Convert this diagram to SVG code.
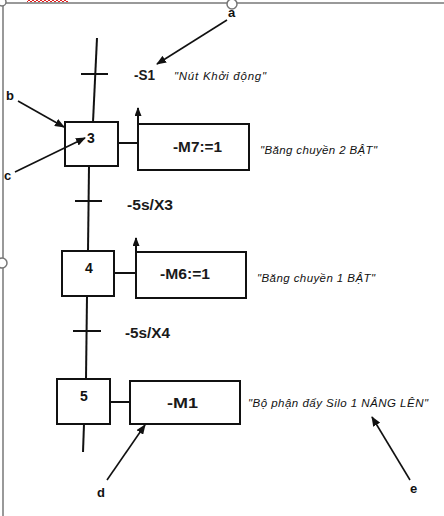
<svg xmlns="http://www.w3.org/2000/svg" width="444" height="516" viewBox="0 0 444 516">
<style>
.ln{stroke:#111;stroke-width:2;fill:none}
.bx{stroke:#111;stroke-width:2;fill:#fff}
.lbl{font-family:"Liberation Sans",Arial,sans-serif;font-size:14px;font-weight:bold;fill:#1a1a1a}
.num{font-family:"Liberation Sans",Arial,sans-serif;font-size:14px;font-weight:bold;fill:#111}
.cm{font-family:"Liberation Sans",Arial,sans-serif;font-size:11.5px;font-style:italic;fill:#111}
.let{font-family:"Liberation Sans",Arial,sans-serif;font-size:13px;font-weight:bold;fill:#111}
.ann{stroke:#111;stroke-width:1.6;fill:none;marker-end:url(#ah)}
.fr{stroke:#777;stroke-width:1.5;fill:none}
.hd{stroke:#777;stroke-width:1.5;fill:#fff}
</style>
<defs>
<marker id="ah" markerWidth="10" markerHeight="8" refX="9" refY="4" orient="auto" markerUnits="userSpaceOnUse">
<path d="M0,0 L10,4 L0,8 Z" fill="#111"/>
</marker>
<marker id="up" markerWidth="9" markerHeight="7" refX="8" refY="3.5" orient="auto" markerUnits="userSpaceOnUse">
<path d="M0,0 L9,3.5 L0,7 Z" fill="#111"/>
</marker>
</defs>
<rect width="444" height="516" fill="#fff"/>
<g id="frame">
<line class="fr" x1="0" y1="3" x2="444" y2="3"/>
<line class="fr" x1="3" y1="0" x2="3" y2="516"/>
<polyline points="27,2 29,0 31,2 33,0 35,2 37,0 39,2 41,0 43,2 45,0 47,2 49,0 51,2 53,0 55,2 57,0 59,2 61,0 63,2 65,0 67,2 68,1" stroke="#e02020" stroke-width="1" fill="none"/>
<circle class="hd" cx="232" cy="4" r="5"/>
<circle class="hd" cx="2" cy="263" r="5"/>
<circle class="hd" cx="2" cy="2" r="4"/>
</g>
<g id="connectors">
<line class="ln" x1="97" y1="38" x2="93" y2="122"/>
<line class="ln" x1="89" y1="166" x2="88" y2="251"/>
<line class="ln" x1="87" y1="296" x2="86" y2="379"/>
<line class="ln" x1="84" y1="424" x2="83" y2="452"/>
<line class="ln" x1="118" y1="143" x2="138" y2="143"/>
<line class="ln" x1="114" y1="273" x2="136" y2="273"/>
<line class="ln" x1="110" y1="402" x2="130" y2="402"/>
<line class="ln" x1="138" y1="124" x2="138" y2="108" marker-end="url(#up)"/>
<line class="ln" x1="136" y1="252" x2="136" y2="238" marker-end="url(#up)"/>
</g>
<g id="transition-S1">
<line class="ln" x1="81" y1="74" x2="108" y2="74"/>
<text class="lbl" x="134" y="80" textLength="21" lengthAdjust="spacingAndGlyphs">-S1</text>
<text class="cm" x="174" y="80" textLength="92" lengthAdjust="spacing">"Nút Khởi động"</text>
</g>
<g id="step3">
<rect class="bx" x="65" y="122" width="53" height="44"/>
<text class="num" x="91" y="143" text-anchor="middle">3</text>
</g>
<g id="action3">
<rect class="bx" x="138" y="124" width="111" height="46"/>
<text class="lbl" x="173" y="152" textLength="49" lengthAdjust="spacingAndGlyphs">-M7:=1</text>
<text class="cm" x="260" y="154" textLength="117" lengthAdjust="spacing">"Băng chuyền 2 BẬT"</text>
</g>
<g id="transition-X3">
<line class="ln" x1="75" y1="201" x2="102" y2="201"/>
<text class="lbl" x="127" y="210" textLength="46" lengthAdjust="spacingAndGlyphs">-5s/X3</text>
</g>
<g id="step4">
<rect class="bx" x="62" y="251" width="52" height="45"/>
<text class="num" x="89" y="273" text-anchor="middle">4</text>
</g>
<g id="action4">
<rect class="bx" x="136" y="252" width="110" height="46"/>
<text class="lbl" x="160" y="279" textLength="50" lengthAdjust="spacingAndGlyphs">-M6:=1</text>
<text class="cm" x="257" y="282" textLength="118" lengthAdjust="spacing">"Băng chuyền 1 BẬT"</text>
</g>
<g id="transition-X4">
<line class="ln" x1="73" y1="331" x2="101" y2="331"/>
<text class="lbl" x="125" y="338" textLength="45" lengthAdjust="spacingAndGlyphs">-5s/X4</text>
</g>
<g id="step5">
<rect class="bx" x="57" y="379" width="53" height="45"/>
<text class="num" x="84" y="401" text-anchor="middle">5</text>
</g>
<g id="action5">
<rect class="bx" x="130" y="381" width="110" height="43"/>
<text class="lbl" x="167" y="408" textLength="31" lengthAdjust="spacingAndGlyphs">-M1</text>
<text class="cm" x="248" y="407" textLength="180" lengthAdjust="spacing">"Bộ phận đẩy Silo 1 NÂNG LÊN"</text>
</g>
<g id="annotations">
<text class="let" x="228" y="17">a</text>
<line class="ann" x1="227" y1="20" x2="157" y2="64"/>
<text class="let" x="6" y="100">b</text>
<line class="ann" x1="18" y1="101" x2="64" y2="127"/>
<text class="let" x="4" y="180">c</text>
<line class="ann" x1="15" y1="172" x2="85" y2="138"/>
<text class="let" x="97" y="497">d</text>
<line class="ann" x1="107" y1="480" x2="145" y2="425"/>
<text class="let" x="410" y="493">e</text>
<line class="ann" x1="410" y1="480" x2="372" y2="417"/>
</g>
</svg>
